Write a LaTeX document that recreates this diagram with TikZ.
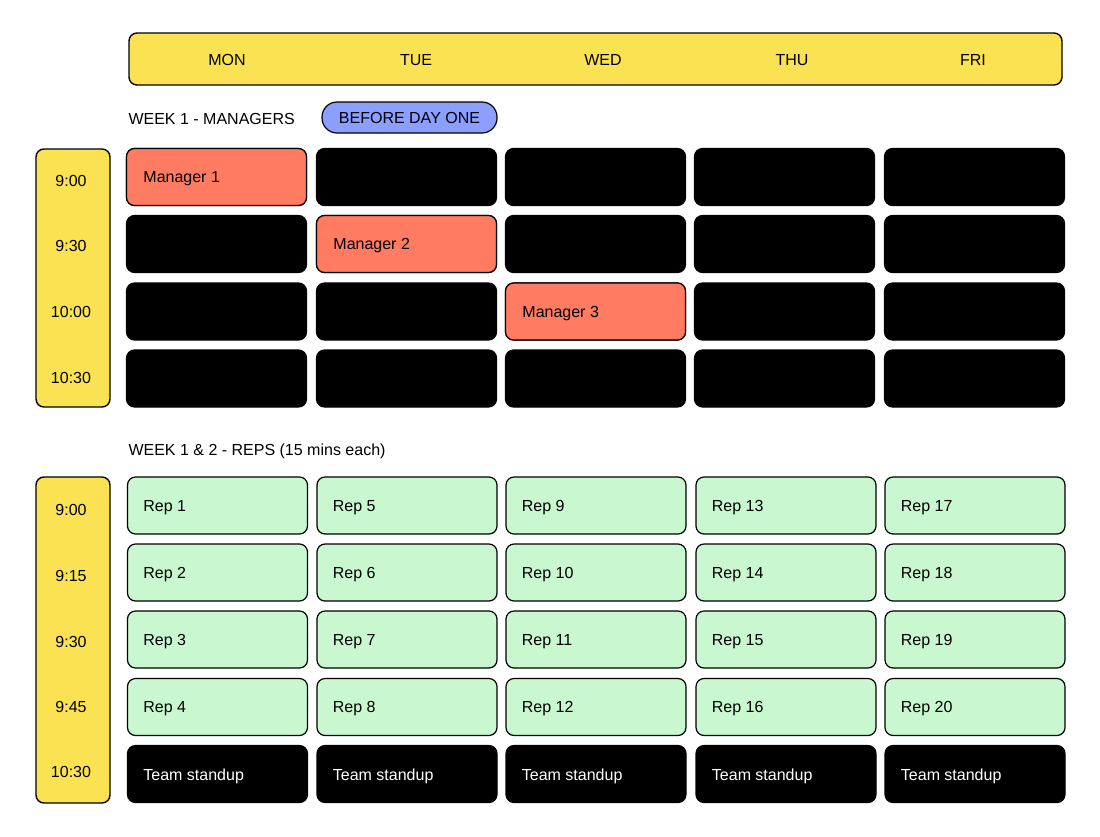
\documentclass[tikz,border=0pt]{standalone}
\usepackage{fontspec}
\setmainfont{Liberation Sans}
\usetikzlibrary{positioning}
\definecolor{sunny}{HTML}{FAE253}
\definecolor{salmon}{HTML}{FF7B61}
\definecolor{mint}{HTML}{C8F7D0}
\definecolor{periwinkle}{HTML}{8C9EFF}
\tikzset{
  bar/.style={draw=black, line width=1.4pt, fill=sunny, rounded corners=8pt},
  cell/.style={draw=black, line width=1.2pt, rounded corners=8pt, minimum width=180pt, minimum height=57pt, inner sep=0pt},
  slot/.style={cell, fill=black},
  mgr/.style={cell, fill=salmon},
  rep/.style={cell, fill=mint},
  lbl/.style={font=\fontsize{16}{18}\selectfont, anchor=west},
  hdr/.style={font=\fontsize{16}{18}\selectfont}
}
\begin{document}
\begin{tikzpicture}[x=1pt,y=-1pt]
  \useasboundingbox (0,0) rectangle (1100,836);

  % day header
  \draw[bar] (129,33) rectangle (1062,85);
  \foreach \d/\x in {MON/227,TUE/416,WED/603,THU/792,FRI/973}
    \node[hdr] (day\d) at (\x,60) {\d};

  % week 1 managers
  \node[hdr, anchor=west] (wkone) at (125,119) {WEEK 1 - MANAGERS};
  \node[hdr, draw=black, line width=1.2pt, fill=periwinkle, rounded corners=15pt,
        minimum width=175pt, minimum height=31pt] (before) at (409.5,117.5) {BEFORE DAY ONE};
  \draw[bar] (36,149) rectangle (110,407);
  \foreach \t/\y in {9:00/181,9:30/246,10:00/312,10:30/378}
    \node[hdr] (mt\y) at (71,\y) {\t};

  \foreach \c/\x in {1/216.5,2/406.5,3/595.5,4/784.5,5/974.5}
    \foreach \r/\y in {1/177,2/244,3/311.5,4/378.5}
      \node[slot] (m\c\r) at (\x,\y) {};
  \node[mgr] (mgrone) at (m11) {};
  \node[lbl] at ([xshift=14pt,yshift=-2pt]mgrone.west) {Manager 1};
  \node[mgr] (mgrtwo) at (m22) {};
  \node[lbl] at ([xshift=14pt,yshift=-2pt]mgrtwo.west) {Manager 2};
  \node[mgr] (mgrthree) at (m33) {};
  \node[lbl] at ([xshift=14pt,yshift=-2pt]mgrthree.west) {Manager 3};

  % weeks 1 and 2 reps
  \node[hdr, anchor=west] (wktwo) at (125,451) {WEEK 1 \& 2 - REPS (15 mins each)};
  \draw[bar] (36,477) rectangle (110,803);
  \foreach \t/\y in {9:00/510,9:15/576,9:30/642,9:45/707,10:30/772}
    \node[hdr] (rt\y) at (71,\y) {\t};

  \foreach \c/\x in {0/217.5,1/407,2/596,3/786,4/975}
  {
    \foreach \r/\y in {1/505.5,2/572.5,3/639.5,4/707}
    {
      \pgfmathtruncatemacro{\n}{4*\c+\r}
      \node[rep] (r\n) at (\x,\y) {};
      \node[lbl] at ([xshift=13pt,yshift=-2pt]r\n.west) {Rep \n};
    }
    \node[slot] (stand\c) at (\x,774) {};
    \node[lbl, text=white] at ([xshift=13pt,yshift=-2pt]stand\c.west) {Team standup};
  }
\end{tikzpicture}
\end{document}
